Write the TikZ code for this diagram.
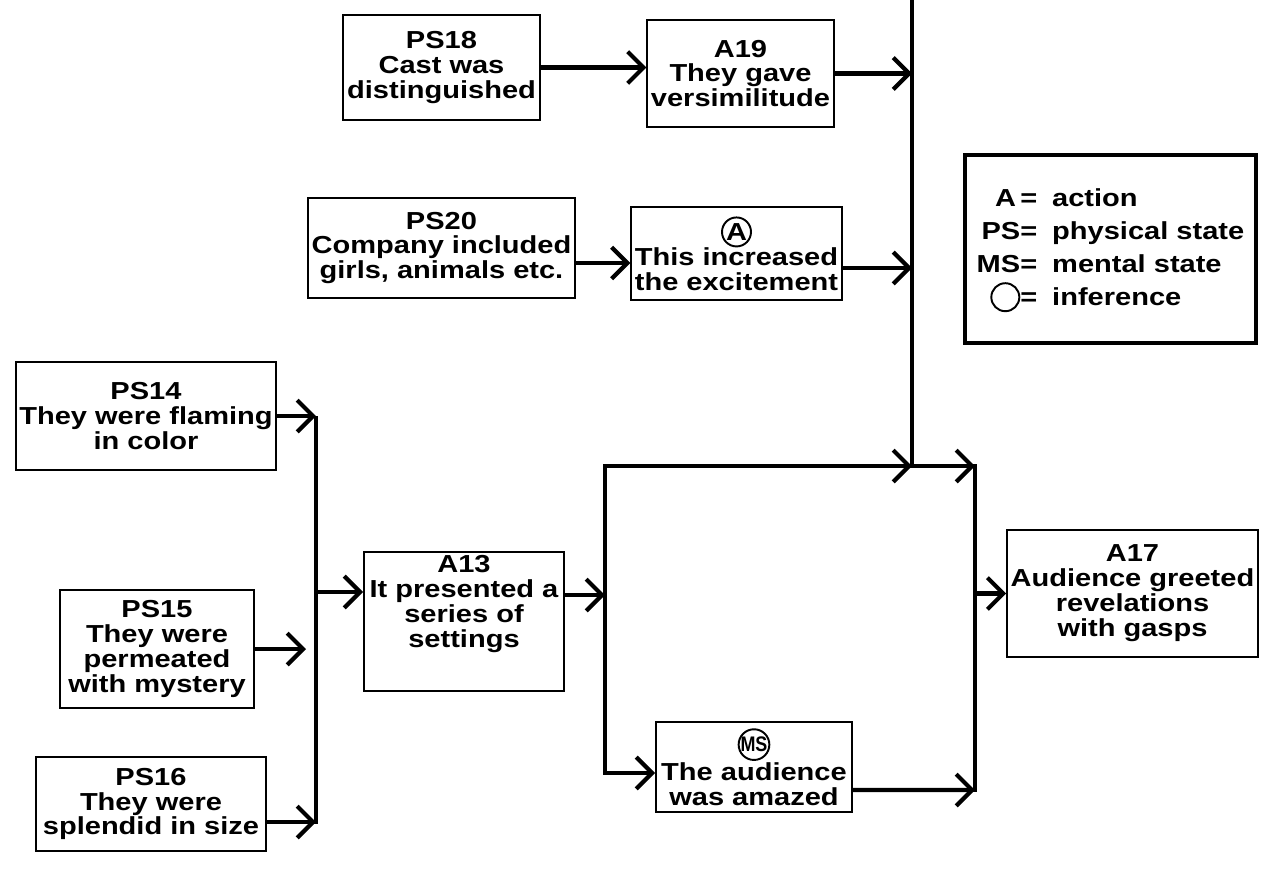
\documentclass[tikz,border=0pt]{standalone}
\usepackage{fontspec}
\setmainfont{Liberation Sans}[FakeStretch=1.18]
\usetikzlibrary{arrows.meta}
\newcommand{\circled}[1]{\tikz[baseline=(c.base)]\node[circle,draw,line width=1.1pt,inner sep=0pt,minimum size=0.58cm] (c) {#1};}
\newcommand{\narrow}[1]{\scalebox{0.72}[1]{\fontsize{12}{12}\selectfont #1}}

\begin{document}
\begin{tikzpicture}[font=\fontsize{14}{14.2}\selectfont\bfseries]
  \tikzstyle{evbox}=[draw, line width=1.1pt, align=center, inner sep=2pt]
  \tikzstyle{keybox}=[draw, line width=2.6pt, align=left, inner sep=2pt]
  \tikzstyle{link}=[line width=2.4pt, -{Straight Barb[length=9pt,width=18pt]}]
  \tikzstyle{bar}=[line width=2.4pt, line cap=rect]
  \useasboundingbox (0,0) rectangle (25.36,-17.66);

  \node[evbox, minimum width=3.94cm, minimum height=2.1cm] (ps18) at (8.83,-1.35) {PS18\\Cast was\\distinguished};
  \node[evbox, minimum width=3.66cm, minimum height=2.14cm] (a19) at (14.81,-1.47) {A19\\They gave\\versimilitude};
  \node[evbox, minimum width=5.26cm, minimum height=2.0cm] (ps20) at (8.83,-4.96) {PS20\\Company included\\girls, animals etc.};
  \node[evbox, minimum width=4.06cm, minimum height=1.86cm] (abox) at (14.73,-5.07) {\circled{A}\\This increased\\the excitement};
  \node[evbox, minimum width=5.2cm, minimum height=2.16cm] (ps14) at (2.92,-8.32) {PS14\\They were flaming\\in color};
  \node[evbox, minimum width=3.88cm, minimum height=2.36cm] (ps15) at (3.14,-12.98) {PS15\\They were\\permeated\\with mystery};
  \node[evbox, minimum width=4.6cm, minimum height=1.88cm] (ps16) at (3.02,-16.08) {PS16\\They were\\splendid in size};
  \node[evbox, minimum width=4.0cm, minimum height=2.74cm] (a13) at (9.28,-12.43) {A13\\It presented a\\series of\\settings\\[0.3cm]};
  \node[evbox, minimum width=3.92cm, minimum height=1.8cm] (ms) at (15.08,-15.34) {\circled{\narrow{MS}}\\The audience\\was amazed};
  \node[evbox, minimum width=4.9cm, minimum height=2.54cm] (a17) at (22.65,-11.87) {A17\\Audience greeted\\revelations\\with gasps};

  \node[keybox, minimum width=5.82cm, minimum height=3.76cm] (key) at (22.21,-4.98) {%
    \renewcommand{\arraystretch}{1.32}%
    \begin{tabular}{@{}r@{\hspace{0.3cm}}l@{}}
      A\,= & action\\
      PS= & physical state\\
      MS= & mental state\\
      \tikz[baseline=-0.6ex]\node[circle,draw,line width=1.1pt,minimum size=0.56cm] (kc) {};= & inference
    \end{tabular}};

  \coordinate (topin) at (18.24,0);
  \coordinate (merge) at (18.24,-9.32);
  \coordinate (rtop) at (19.5,-9.32);
  \coordinate (rbot) at (19.5,-15.8);
  \coordinate (splittop) at (12.1,-9.32);
  \coordinate (splitbot) at (12.1,-15.46);
  \coordinate (coltop) at (6.32,-8.36);
  \coordinate (colbot) at (6.32,-16.44);

  \draw[link] (ps18) -- (ps18 -| a19.west);
  \draw[link] (a19) -- (a19 -| merge);
  \draw[link] ([yshift=-0.3cm]ps20.east) -- ([yshift=-0.3cm]ps20.east -| abox.west);
  \draw[link] ([yshift=-0.29cm]abox.east) -- ([yshift=-0.29cm]abox.east -| merge);
  \draw[bar] (topin) -- (merge);

  \draw[link] (ps14) -- (ps14 -| coltop);
  \draw[link] (ps15) -- ([xshift=-0.2cm]ps15 -| coltop);
  \draw[link] ([yshift=-0.36cm]ps16.east) -- ([yshift=-0.36cm]ps16.east -| colbot);
  \draw[bar] (coltop) -- (colbot);
  \draw[link] ([yshift=0.59cm]a13.west -| coltop) -- ([yshift=0.59cm]a13.west);

  \draw[link] ([yshift=0.53cm]a13.east) -- ([yshift=0.53cm]a13.east -| splittop);
  \draw[bar] (splitbot) -- (splittop);
  \draw[link] (splittop) -- (merge);
  \draw[link] (merge) -- (rtop);
  \draw[link] (splitbot) -- (splitbot -| ms.west);
  \draw[link] ([yshift=-0.46cm]ms.east) -- (rbot);
  \draw[bar] (rtop) -- (rbot);
  \draw[link] (a17 -| rtop) -- (a17);
\end{tikzpicture}
\end{document}
